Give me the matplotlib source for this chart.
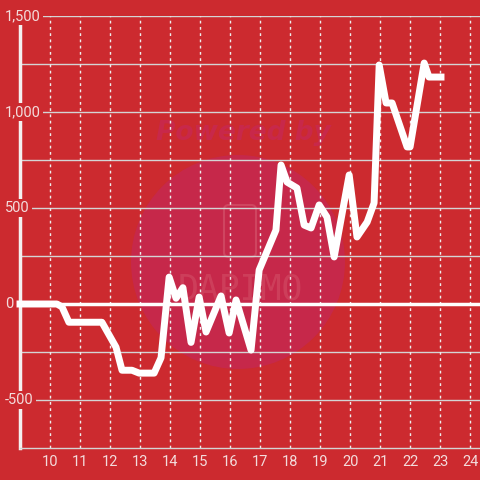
import matplotlib
matplotlib.use("Agg")
import matplotlib.pyplot as plt
from matplotlib.patches import Circle, FancyBboxPatch

# series
x_values = [9.0, 10.23, 10.4, 10.63, 11.73, 12.2, 12.4, 12.73, 12.97, 13.47, 13.7,
            13.97, 14.2, 14.43, 14.7, 14.97, 15.2, 15.7, 15.97, 16.2, 16.7, 16.97,
            17.53, 17.7, 17.9, 18.23, 18.47, 18.7, 18.97, 19.23, 19.47, 19.97, 20.23,
            20.57, 20.8, 20.97, 21.2, 21.4, 21.9, 22.0, 22.47, 22.63, 23.03]
y_values = [0, 0, -15, -95, -95, -225, -345, -345, -360, -360, -280,
            140, 30, 85, -200, 36, -146, 42, -151, 21, -240, 177,
            385, 724, 635, 604, 411, 396, 516, 453, 245, 672, 349,
            427, 526, 1245, 1047, 1047, 818, 818, 1255, 1182, 1182]
x_ticks = list(range(10, 25))
y_ticks = [1500, 1000, 500, 0, -500]
y_tick_labels = ['1,500', '1,000', '500', '0', '-500']
y_grid = [-500, -250, 250, 500, 750, 1000, 1250, 1500]

BG = '#cc2a2f'
LABEL_COLOR = '#f3dcdc'
plt.rcParams['font.family'] = ['Roboto', 'DejaVu Sans']

fig = plt.figure(figsize=(4.8, 4.8), dpi=100, facecolor=BG)

# watermark behind the chart
fig.patches.append(Circle((238 / 480, 1 - 262 / 480), 107 / 480, transform=fig.transFigure,
                          facecolor='#c6284a', edgecolor='none', zorder=-2))
fig.patches.append(FancyBboxPatch((224 / 480, 1 - 257 / 480), 32 / 480, 52 / 480,
                                  boxstyle='round,pad=0,rounding_size=0.01',
                                  transform=fig.transFigure, facecolor='none',
                                  edgecolor='#d65a6f', linewidth=1.5, alpha=0.6, zorder=-1))
fig.text(243 / 480, 1 - 133 / 480, 'Powered by', ha='center', va='center', fontsize=19,
         fontweight='bold', fontstyle='italic', color='#c8284a', zorder=-1,
         family=['DejaVu Sans'])
fig.text(240 / 480, 1 - 290 / 480, 'DAPIMO', ha='center', va='center', fontsize=25,
         color='#d65a6f', alpha=0.45, zorder=-1, family=['DejaVu Sans Mono'])

ax = fig.add_axes([20 / 480, 32 / 480, 460 / 480, 432 / 480])
ax.set_facecolor('none')
ax.set_xlim(9, 24.33)
ax.set_ylim(-750, 1500)

for v in y_grid:
    ax.axhline(v, color='#d4d4d4', linewidth=1, zorder=1)
for v in x_ticks:
    ax.axvline(v, color='#eeeeee', linewidth=1, linestyle=(0, (2, 2.5)), zorder=1)
ax.axhline(0, color='white', linewidth=2.5, zorder=2)

ax.plot(x_values, y_values, color='white', linewidth=5, solid_joinstyle='round', zorder=4,
        clip_on=False)

for side in ['top', 'right']:
    ax.spines[side].set_visible(False)
ax.spines['left'].set_color('#f4f0f0')
ax.spines['left'].set_linewidth(2.5)
ax.spines['bottom'].set_color('#d4d4d4')
ax.spines['bottom'].set_linewidth(1)

ax.set_yticks([])
ax.set_xticks(x_ticks)
ax.set_xticklabels([str(t) for t in x_ticks])
ax.tick_params(axis='x', length=0, pad=5, labelsize=10.5, labelcolor=LABEL_COLOR)

for val, lab in zip(y_ticks, y_tick_labels):
    ax.text(-15 / 460, val, lab, transform=ax.get_yaxis_transform(), ha='left', va='center',
            fontsize=10.5, color=LABEL_COLOR, zorder=5, clip_on=False,
            bbox=dict(boxstyle='square,pad=0.15', facecolor=BG, edgecolor='none'))

fig.savefig('out.png', dpi=100, facecolor=BG)
